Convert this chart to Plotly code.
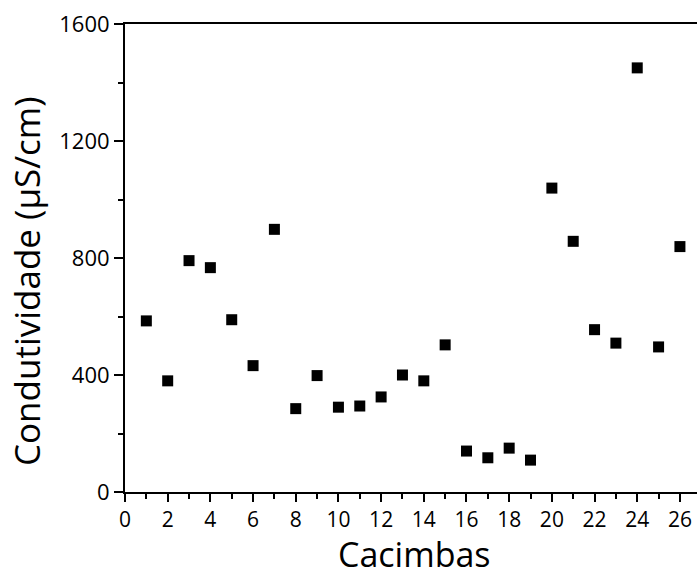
import plotly.graph_objects as go

cacimbas = list(range(1, 27))
condutividade = [585, 380, 791, 767, 589, 432, 898, 285, 398, 290,
                 294, 325, 400, 380, 503, 140, 117, 150, 109, 1039,
                 857, 555, 509, 1450, 496, 839]

x_ticks = list(range(0, 27, 2))
y_ticks = [0, 400, 800, 1200, 1600]

FONT = "Open Sans"

fig = go.Figure()
fig.add_trace(go.Scatter(
    x=cacimbas, y=condutividade, mode="markers",
    marker=dict(symbol="square", size=11, color="black"),
    showlegend=False,
))

fig.update_layout(
    width=697, height=577,
    margin=dict(l=125, r=0, t=24, b=85),
    paper_bgcolor="white", plot_bgcolor="white",
    font=dict(family=FONT, color="black", size=21),
    xaxis=dict(
        range=[0, 26.8], tickvals=x_ticks, ticktext=[str(v) for v in x_ticks],
        ticks="outside", ticklen=8, tickwidth=2, tickcolor="black",
        showline=True, linewidth=2, linecolor="black", mirror=True,
        showgrid=False, zeroline=False,
        minor=dict(dtick=1, tick0=0, ticks="outside", ticklen=5, tickwidth=2, tickcolor="black", showgrid=False),
        tickfont=dict(size=21, family=FONT),
    ),
    yaxis=dict(
        range=[0, 1600], tickvals=y_ticks, ticktext=[str(v) for v in y_ticks],
        ticks="outside", ticklen=9, tickwidth=2, tickcolor="black",
        showline=True, linewidth=2, linecolor="black", mirror=False,
        showgrid=False, zeroline=False,
        minor=dict(dtick=200, tick0=0, ticks="outside", ticklen=5, tickwidth=2, tickcolor="black", showgrid=False),
        tickfont=dict(size=22, family=FONT),
    ),
    annotations=[
        dict(text="Condutividade (µS/cm)", textangle=-90, showarrow=False,
             xref="paper", yref="paper", x=(26 - 125) / 572, y=(492 - 281) / 468,
             xanchor="center", yanchor="middle", font=dict(size=35, family=FONT)),
        dict(text="Cacimbas", showarrow=False, borderpad=0, borderwidth=0,
             xref="paper", yref="paper", x=(414 - 125) / 572, y=(492 - 577) / 468,
             xanchor="center", yanchor="bottom", font=dict(size=34, family=FONT)),
    ],
)

fig.write_html(
    "out.html",
    config={"displayModeBar": False},
    post_script="document.body.style.margin='0';document.body.style.overflow='hidden';",
)
